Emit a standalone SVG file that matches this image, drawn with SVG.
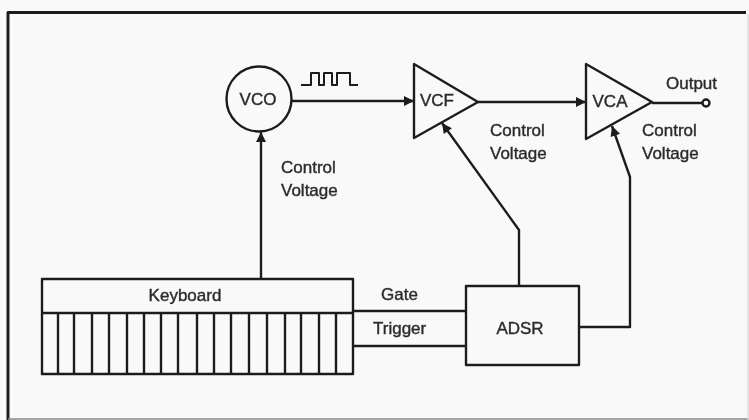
<svg xmlns="http://www.w3.org/2000/svg" width="749" height="420" viewBox="0 0 749 420">
<defs>
<style>
.l{fill:none;stroke:#1e1e1e;stroke-width:2.4;stroke-linejoin:round}
.t{font-family:"Liberation Sans",Arial,sans-serif;font-size:17px;fill:#2c2c2c;stroke:#2c2c2c;stroke-width:.4px}
.m{text-anchor:middle}
</style>
<filter id="b" x="0" y="0" width="749" height="420" filterUnits="userSpaceOnUse"><feGaussianBlur stdDeviation="0.6"/></filter>
<marker id="a" markerUnits="userSpaceOnUse" markerWidth="12" markerHeight="12" refX="11" refY="6" orient="auto"><path d="M1 1L11 6L1 11Z" fill="#1a1a1a"/></marker>
</defs>
<rect width="749" height="420" fill="#f9f9f9"/>
<g filter="url(#b)">
<g id="frame">
<path class="l" style="stroke-width:3" d="M8 420V12.500H746"/>
<path d="M8 419H749" style="stroke:#8a8a8a;stroke-width:1.500"/>
<path d="M748 14V420" style="stroke:#dddddd;stroke-width:1.500"/>
</g>
<g id="connectors">
<path class="l" marker-end="url(#a)" d="M261 279V132"/>
<path class="l" marker-end="url(#a)" d="M292 101H414"/>
<path class="l" marker-end="url(#a)" d="M478 102H586"/>
<path class="l" d="M652 103H702"/>
<path class="l" marker-end="url(#a)" d="M519 286V230L442 123"/>
<path class="l" marker-end="url(#a)" d="M579 327H630V177L612 126"/>
<path class="l" d="M353 311H466M353 346H466"/>
<path class="l" style="stroke-width:2" d="M301 85H311V73H319V85H324V73H332V85H337V73H350V85H358"/>
</g>
<g id="vco"><circle class="l" cx="259" cy="99" r="32.500"/><text class="t m" x="258" y="105">VCO</text></g>
<g id="vcf"><path class="l" d="M414 64V138L478 102Z"/><text class="t m" x="437" y="106">VCF</text></g>
<g id="vca"><path class="l" d="M586 64V139L652 102Z"/><text class="t m" x="610" y="107">VCA</text></g>
<g id="output"><circle class="l" cx="706" cy="103" r="3.500"/><text class="t" x="666" y="89">Output</text></g>
<g id="keyboard">
<rect class="l" x="42" y="279" width="311" height="95"/>
<path class="l" d="M42 313H353M58 313V374M74 313V374M92 313V374M109 313V374M127 313V374M144 313V374M161 313V374M178 313V374M197 313V374M214 313V374M231 313V374M249 313V374M267 313V374M285 313V374M301 313V374M319 313V374M336 313V374"/>
<text class="t m" x="185" y="301">Keyboard</text>
</g>
<g id="adsr"><rect class="l" x="466" y="286" width="113" height="79"/><text class="t m" x="520" y="334">ADSR</text></g>
<g id="labels">
<text class="t" x="281" y="173">Control</text><text class="t" x="281" y="196">Voltage</text>
<text class="t" x="490" y="136">Control</text><text class="t" x="490" y="159">Voltage</text>
<text class="t" x="642" y="136">Control</text><text class="t" x="642" y="159">Voltage</text>
<text class="t" x="381" y="300">Gate</text><text class="t" x="373" y="334">Trigger</text>
</g>
</g>
</svg>
